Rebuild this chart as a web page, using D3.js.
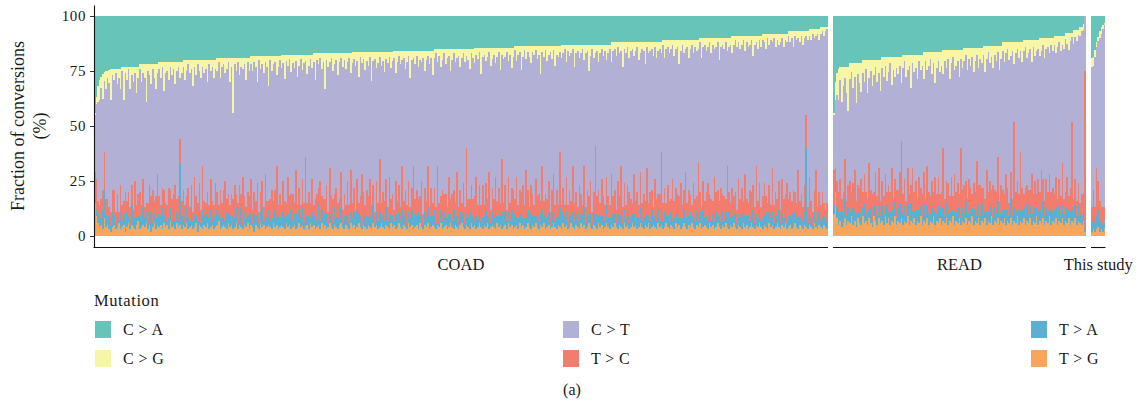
<!DOCTYPE html>
<html><head><meta charset="utf-8">
<script src="https://cdn.jsdelivr.net/npm/d3@7"></script>
<style>
body{margin:0;background:#fff}
svg{display:block}
text{font-family:"Liberation Serif","Times New Roman",serif;fill:#1a1a1a}
</style>
</head><body>
<svg id="chart" width="1144" height="408"></svg>
<script>
// ---- data ----
const seriesKeys = ['C > A','C > G','C > T','T > C','T > A','T > G'];
const seriesColors = ['#66C5B8','#F7F5A6','#B3B0D5','#F27C6D','#5AAFD3','#F8A65C'];
const cohorts = ['COAD','READ','This study'];
const yTicks = [0,25,50,75,100];
const legendTitle = 'Mutation';
const caption = '(a)';
// each row: one sample, values in % for [C>A, C>G, C>T, T>C, T>A, T>G]
const coadValues = [
[44,1,26,12,2,15],[37,3,34,14,3,9],[32,7,45,6,4,6],[29,9,48,5,5,4],[27.5,5,50.5,9,3,5],[26.5,11,41.5,9,9,3],[25.5,4,32.5,17,13,8],[25,8,50,8,5,4],[25,3,55,10,2,5],[24.5,6,56.5,4,6,3],
[24,14,51,6,3,2],[24,3,52,10,7,4],[24,5,50,12,4,5],[24,2,63,6,2,3],[24,7,50,9,6,4],[24,4,61,4,1,6],[24,9,44,12,8,3],[23,2,61,7,3,4],[23,15,46,6,5,5],[23,3,54,14,4,2],
[23,6,55,5,7,4],[23,1,56,11,3,6],[23,10,54,8,2,3],[23,4,50,9,9,5],[23,7,58,4,4,4],[23,3,49,17,5,3],[23,12,51,6,3,5],[23,5,53,10,2,7],[22,2,56,11,6,3],[22,8,56,7,3,4],
[22,4,48,13,8,5],[22,6,59,5,4,4],[22,17,46,4,5,6],[22,3,60,9,3,3],[22,5,50,12,6,5],[22,9,51,7,9,2],[22,2,55,15,2,4],[22,6,56,6,4,6],[22,11,49,10,5,3],[22,4,46,20,3,5],
[21,3,58,8,6,4],[21,7,58,5,4,5],[21,2,55,9,10,3],[21,13,45,12,3,6],[21,5,59,4,7,4],[21,4,61,7,2,5],[21,8,49,14,5,3],[21,2,56,8,6,7],[21,6,56,10,3,4],[21,3,57,5,9,5],
[21,10,46,16,4,3],[21,4,58,6,5,6],[21,2,59,11,3,4],[21,7,28,11,28,5],[21,5,58,7,6,3],[20,3,56,12,4,5],[20,9,57,8,2,4],[20,5,57,5,7,6],[20,2,56,14,5,3],[20,6,61,6,3,4],
[20,4,53,10,8,5],[20,12,57,4,4,3],[20,3,50,17,6,4],[20,7,55,9,3,6],[20,2,63,8,5,2],[20,5,51,12,7,5],[20,8,60,6,2,4],[20,3,45,20,9,3],[20,6,58,7,4,5],[20,4,61,5,6,4],
[20,10,50,11,3,6],[20,2,64,6,5,3],[20,5,49,14,8,4],[20,3,61,9,2,5],[20,8,58,5,6,3],[20,4,52,16,4,4],[19,6,55,8,7,5],[19,2,65,4,3,7],[19,9,51,13,5,3],[19,4,62,7,4,4],
[19,3,57,10,6,5],[19,7,49,18,3,4],[19,5,59,6,8,3],[19,2,60,9,4,6],[19,11,56,5,5,4],[19,4,58,12,2,5],[19,25,39,8,6,3],[19,3,55,15,4,4],[19,6,56,6,7,6],[19,2,64,9,3,3],
[19,8,50,13,5,5],[19,4,58,6,9,4],[19,5,49,22,2,3],[19,3,60,7,6,5],[19,10,58,5,4,4],[19,2,59,11,3,6],[19,6,57,8,7,3],[18,4,52,16,5,5],[18,7,63,6,2,4],[18,3,59,10,8,2],
[18,5,61,7,4,5],[18,12,46,14,6,4],[18,2,69,5,3,3],[18,6,56,9,5,6],[18,4,53,12,9,4],[18,8,61,6,2,5],[18,3,51,19,6,3],[18,5,61,8,4,4],[18,14,52,4,7,5],[18,2,63,10,3,4],
[18,7,54,13,5,3],[18,4,62,6,4,6],[18,3,58,9,8,4],[18,9,41,24,3,5],[18,5,63,5,6,3],[18,2,61,11,4,4],[17.5,6,62.5,7,2,5],[17.5,4,53.5,14,7,4],[17.5,11,55.5,8,5,3],[17.5,3,64.5,6,3,6],
[17.5,5,50.5,17,6,4],[17.5,2,62.5,9,4,5],[17.5,8,55.5,7,9,3],[17.5,4,59.5,12,3,4],[17.5,6,61.5,5,5,5],[17.5,3,49.5,20,7,3],[17.5,10,58.5,8,2,4],[17.5,5,55.5,10,6,6],[17.5,2,66.5,6,4,4],[17.5,7,49.5,13,8,5],
[17.5,4,63.5,9,3,3],[17.5,3,43.5,27,5,4],[17.5,9,58.5,6,4,5],[17.5,5,57.5,11,6,3],[17.5,2,65.5,7,2,6],[17.5,6,50.5,15,7,4],[17,4,65,5,4,5],[17,12,54,9,5,3],[17,3,61,12,3,4],[17,5,56,8,9,5],
[17,2,56,18,4,3],[17,7,58,6,6,6],[17,4,62,10,3,4],[17,16,50,7,5,5],[17,3,57,13,7,3],[17,6,66,5,2,4],[17,4,48,21,4,6],[17,2,63,8,6,4],[17,8,58,11,3,3],[17,5,59,6,8,5],
[17,3,58,14,4,4],[17,10,58,7,5,3],[17,4,62,9,3,5],[17,2,52,16,7,6],[17,6,65,6,2,4],[17,3,61,10,6,3],[17,7,62,5,4,5],[17,4,54,12,9,4],[17,2,67,8,3,3],[17,9,44,19,5,6],
[16.5,5,63.5,7,4,4],[16.5,3,58.5,11,6,5],[16.5,6,65.5,6,3,3],[16.5,4,53.5,14,8,4],[16.5,11,57.5,5,4,6],[16.5,2,63.5,9,5,4],[16.5,5,50.5,23,2,3],[16.5,3,60.5,8,7,5],[16.5,8,61.5,6,4,4],[16.5,4,58.5,12,6,3],
[16.5,6,59.5,10,3,5],[16.5,2,55.5,17,5,4],[16.5,13,56.5,7,4,3],[16.5,4,56.5,9,8,6],[16.5,3,69.5,5,2,4],[16.5,7,51.5,14,6,5],[16.5,5,63.5,8,4,3],[16.5,2,46.5,24,7,4],[16.5,6,62.5,6,3,6],[16.5,4,59.5,11,5,4],
[16.5,9,58.5,9,4,3],[16.5,3,54.5,13,8,5],[16.5,5,65.5,6,3,4],[16.5,2,54.5,18,6,3],[16.5,7,59.5,7,4,6],[16.5,4,60.5,10,5,4],[16,3,69,5,2,5],[16,10,49,15,7,3],[16,5,63,8,4,4],[16,2,59,12,5,6],
[16,6,65,6,3,4],[16,4,48,20,9,3],[16,3,65,7,4,5],[16,8,55,11,6,4],[16,5,65,9,2,3],[16,2,57,14,5,6],[16,12,59,5,4,4],[16,4,58,10,7,5],[16,3,49,26,3,3],[16,6,61,7,6,4],
[16,2,61,12,4,5],[16,7,60,6,8,3],[16,4,62,9,3,6],[16,5,54,16,5,4],[16,3,71,5,2,3],[16,9,53,11,6,5],[16,4,64,8,4,4],[16,2,50,19,7,6],[16,6,65,7,3,3],[16,3,59,13,5,4],
[16,11,58,6,4,5],[15,4,59,10,8,4],[15,2,70,7,3,3],[15,6,47,22,5,5],[15,3,67,9,2,4],[15,8,59,6,6,6],[15,5,59,14,4,3],[15,2,64,8,7,4],[15,7,59,11,3,5],[15,4,68,5,5,3],
[15,3,55,17,6,4],[15,10,58,7,4,6],[15,5,61,12,3,4],[15,2,62,9,9,3],[15,6,64,6,4,5],[15,4,52,20,5,4],[15,3,69,8,2,3],[15,8,56,10,6,5],[15,4,66,5,4,6],[15,2,59,13,7,4],
[15,6,66,7,3,3],[15,3,42,30,5,5],[15,5,63,9,4,4],[15,9,59,6,8,3],[15,2,60,14,3,6],[15,4,64,8,5,4],[14.5,7,60.5,11,2,5],[14.5,3,55.5,18,6,3],[14.5,5,66.5,6,4,4],[14.5,2,60.5,10,7,6],
[14.5,12,59.5,7,3,4],[14.5,4,58.5,15,5,3],[14.5,3,68.5,5,4,5],[14.5,6,55.5,12,8,4],[14.5,4,64.5,8,3,6],[14.5,2,54.5,21,5,3],[14.5,8,65.5,6,2,4],[14.5,5,58.5,11,6,5],[14.5,3,65.5,9,4,4],[14.5,7,51.5,17,7,3],
[14.5,4,65.5,7,3,6],[14.5,2,61.5,13,5,4],[14.5,10,60.5,6,4,5],[14.5,3,47.5,24,8,3],[14.5,5,65.5,9,2,4],[14.5,4,58.5,12,6,5],[14.5,2,71.5,5,4,3],[14.5,6,52.5,16,5,6],[14.5,3,67.5,8,3,4],[14.5,9,54.5,10,7,5],
[14.5,4,60.5,14,4,3],[13.5,2,67.5,7,6,4],[13.5,7,52.5,19,3,5],[13.5,4,68.5,6,5,3],[13.5,3,62.5,11,4,6],[13.5,11,55.5,8,8,4],[13.5,5,58.5,15,3,5],[13.5,2,70.5,6,5,3],[13.5,6,50.5,22,4,4],[13.5,3,62.5,9,6,6],
[13.5,5,68.5,7,2,4],[13.5,8,55.5,13,7,3],[13.5,3,64.5,10,4,5],[13.5,4,68.5,5,5,4],[13.5,2,58.5,17,3,6],[13.5,6,62.5,8,6,4],[13.5,4,63.5,12,4,3],[13.5,13,57.5,6,5,5],[13.5,3,51.5,20,8,4],[13.5,5,65.5,7,3,6],
[13.5,2,65.5,11,5,3],[13.5,7,62.5,9,4,4],[13.5,4,57.5,14,6,5],[13.5,3,72.5,6,2,3],[13.5,6,59.5,10,7,4],[13.5,2,56.5,18,4,6],[13.5,9,63.5,7,3,4],[13.5,4,61.5,13,5,3],[13.5,5,67.5,5,4,5],[13.5,3,45.5,25,9,4],
[13,6,67,8,3,3],[13,4,61,11,5,6],[13,2,71,6,4,4],[13,8,52,16,6,5],[13,3,70,9,2,3],[13,5,61,12,5,4],[13,4,67,7,3,6],[13,2,53,21,7,4],[13,10,62,8,4,3],[13,4,63,10,5,5],
[13,3,71,6,3,4],[13,6,58,14,6,3],[13,4,64,9,4,6],[13,2,71,5,5,4],[13,7,48,19,8,5],[13,4,70,7,3,3],[13,3,63,12,5,4],[13,12,57,8,4,6],[13,5,57,15,6,4],[13,2,74,6,2,3],
[13,6,61,10,5,5],[13,4,42,33,4,4],[13,3,66,8,7,3],[13,8,58,12,3,6],[13,4,68,6,5,4],[13,2,59,17,4,5],[13,5,64,9,6,3],[13,3,70,7,3,4],[13,7,53,13,8,6],[13,4,65,10,4,4],
[13,2,71,6,5,3],[12,9,51,20,3,5],[12,4,66,8,6,4],[12,3,64,11,4,6],[12,6,70,6,2,4],[12,2,61,15,7,3],[12,5,65,9,4,5],[12,4,52,23,5,4],[12,11,64,7,3,3],[12,3,61,12,6,6],
[12,5,69,6,4,4],[12,2,63,10,8,5],[12,7,61,14,3,3],[12,4,67,8,5,4],[12,3,70,5,4,6],[12,6,54,18,6,4],[12,4,68,9,2,5],[12,2,66,12,5,3],[12,8,66,6,4,4],[12,5,54,16,7,6],
[12,3,70,8,3,4],[12,4,65,11,5,3],[12,10,62,7,4,5],[12,2,55,21,6,4],[12,5,68,6,3,6],[12,4,64,13,4,3],[12,3,64,9,8,4],[12,6,69,5,3,5],[12,2,60,17,5,4],[12,7,64,10,4,3],
[12,4,65,7,6,6],[12,3,66,12,3,4],[12,5,45,28,5,5],[11,2,72,8,4,3],[11,8,59,11,7,4],[11,4,70,6,3,6],[11,3,63,14,5,4],[11,6,67,9,4,3],[11,4,68,6,6,5],[11,2,61,19,3,4],
[11,7,66,8,5,3],[11,4,63,12,4,6],[11,3,67,7,8,4],[11,11,60,10,3,5],[11,5,60,16,5,3],[11,2,73,6,4,4],[11,6,62,9,6,6],[11,4,56,22,3,4],[11,3,71,7,5,3],[11,8,60,12,4,5],
[11,4,66,8,7,4],[11,2,73,5,3,6],[11,6,59,15,5,4],[11,3,69,10,4,3],[11,5,66,7,6,5],[11,4,52,26,3,4],[10,2,68,9,5,6],[10,9,68,6,4,3],[10,4,61,13,8,4],[10,3,71,8,3,5],
[10,6,64,11,5,4],[10,4,62,17,4,3],[10,2,69,7,6,6],[10,7,66,10,3,4],[10,3,71,6,5,5],[10,5,58,20,4,3],[10,4,66,9,7,4],[10,2,67,12,3,6],[10,10,64,7,5,4],[10,4,64,15,4,3],
[10,3,68,8,6,5],[10,5,67,11,3,4],[10,2,71,6,5,6],[10,6,52,24,4,4],[10,4,66,9,8,3],[10,3,72,7,3,5],[9,8,61,13,5,4],[9,4,69,8,4,6],[9,2,69,10,6,4],[9,5,74,6,3,3],
[9,3,62,16,5,5],[9,6,68,9,4,4],[9,4,65,12,7,3],[9,2,73,7,3,6],[9,7,56,19,5,4],[9,3,71,8,4,5],[9,5,71,6,6,3],[9,4,66,14,3,4],[9,2,69,9,5,6],[9,9,59,11,8,4],
[9,4,74,7,3,3],[9,3,56,22,5,5],[9,6,69,8,4,4],[9,2,65,12,6,6],[9,5,73,6,3,4],[8,3,71,10,5,3],[8,4,64,15,4,5],[8,7,67,7,7,4],[8,2,75,9,3,3],[8,5,64,12,5,6],
[8,3,75,6,4,4],[8,4,57,20,6,5],[8,2,76,8,3,3],[8,6,66,11,5,4],[8,3,72,7,4,6],[8,5,62,13,8,4],[8,4,76,6,3,3],[8,2,64,16,5,5],[8,6,69,9,4,4],[8,3,70,7,6,6],
[8,4,64,18,3,3],[7,2,74,8,5,4],[7,5,68,11,4,5],[7,3,74,6,7,3],[7,7,65,14,3,4],[7,2,71,9,5,6],[7,4,74,7,4,4],[7,3,60,21,6,3],[7,5,72,8,3,5],[7,2,72,10,5,4],
[7,6,74,6,4,3],[7,3,67,12,6,5],[7,2,36,15,36,4],[7,4,76,7,3,3],[6,3,64,17,5,5],[6,5,73,8,4,4],[6,2,81,6,2,3],[6,4,69,10,5,6],[6,3,61,23,3,4],[6,2,79,6,4,3],
[6,5,69,9,6,5],[5,3,78,7,3,4],[5,2,73,12,5,3],[5,4,76,6,4,5],[5,2,81,5,3,4],[5,1,79,8,4,3]
];
const readValues = [
[44,1,25,16,4,10],[30,8,31,8,3,20],[26,10,39,12,5,8],[24,14,42,9,6,5],[23,6,45,15,4,7],[23,16,44,6,7,4],[23,9,48,11,3,6],[23,5,37,18,9,8],[23,12,49,7,4,5],[23,20,34,10,6,7],
[21.5,7,46.5,14,5,6],[21.5,4,54.5,8,3,9],[21.5,11,43.5,11,8,5],[21.5,6,42.5,19,4,7],[21.5,18,44.5,6,6,4],[21.5,5,50.5,12,3,8],[21.5,9,47.5,9,7,6],[21.5,13,39.5,16,5,5],[20,6,54,7,4,9],[20,10,42,13,9,6],
[20,4,56,10,3,7],[20,15,48,6,6,5],[20,8,39,21,4,8],[20,5,54,8,7,6],[20,12,49,12,3,4],[20,7,53,6,5,9],[20,3,48,14,8,7],[20,10,52,9,4,5],[20,6,43,17,6,8],[20,14,50,7,3,6],
[18.5,5,51.5,11,7,7],[18.5,9,54.5,8,5,5],[18.5,4,49.5,15,4,9],[18.5,11,50.5,6,8,6],[18.5,7,51.5,12,3,8],[18.5,3,58.5,9,6,5],[18.5,13,37.5,19,5,7],[18.5,6,58.5,7,4,6],[18.5,9,46.5,10,7,9],[18.5,5,55.5,13,3,5],
[18.5,8,52.5,8,6,7],[18.5,4,48.5,14,9,6],[18.5,12,26.5,31,4,8],[17.5,6,57.5,9,5,5],[17.5,3,53.5,12,7,7],[17.5,10,56.5,7,3,6],[17.5,7,44.5,16,6,9],[17.5,5,58.5,10,4,5],[17.5,15,44.5,8,8,7],[17.5,4,47.5,20,5,6],
[17.5,8,54.5,9,3,8],[17.5,6,51.5,13,7,5],[17.5,11,54.5,6,4,7],[17.5,3,52.5,15,6,6],[17.5,7,53.5,8,5,9],[17.5,5,58.5,11,3,5],[16.5,12,42.5,14,8,7],[16.5,4,62.5,7,4,6],[16.5,8,43.5,18,6,8],[16.5,6,57.5,10,5,5],
[16.5,3,62.5,8,3,7],[16.5,10,48.5,12,7,6],[16.5,5,58.5,7,4,9],[16.5,14,42.5,16,6,5],[16.5,7,57.5,9,3,7],[16.5,4,52.5,13,8,6],[16.5,9,55.5,6,5,8],[16.5,6,57.5,11,4,5],[15.5,11,33.5,27,6,7],[15.5,5,62.5,8,3,6],
[15.5,8,51.5,10,7,8],[15.5,4,56.5,14,5,5],[15.5,13,53.5,7,4,7],[15.5,6,51.5,12,9,6],[15.5,3,63.5,6,3,9],[15.5,9,47.5,17,6,5],[15.5,7,57.5,9,4,7],[15.5,5,55.5,11,7,6],[15.5,12,53.5,6,5,8],[15.5,4,40.5,32,3,5],
[15.5,8,55.5,8,6,7],[14.5,6,56.5,13,4,6],[14.5,3,57.5,9,8,8],[14.5,10,58.5,7,5,5],[14.5,5,54.5,16,3,7],[14.5,8,55.5,10,6,6],[14.5,4,62.5,6,4,9],[14.5,11,50.5,12,7,5],[14.5,6,59.5,8,5,7],[14.5,3,48.5,25,3,6],
[14.5,9,53.5,9,6,8],[14.5,5,57.5,14,4,5],[14.5,7,56.5,7,8,7],[13.5,4,60.5,11,5,6],[13.5,12,57.5,6,3,8],[13.5,6,50.5,19,6,5],[13.5,3,63.5,9,4,7],[13.5,8,53.5,12,7,6],[13.5,5,60.5,7,5,9],[13.5,10,53.5,15,3,5],
[13.5,4,61.5,8,6,7],[13.5,7,59.5,10,4,6],[13.5,3,47.5,20,8,8],[13.5,11,59.5,6,5,5],[13.5,6,57.5,13,3,7],[12,4,63,9,6,6],[12,9,60,7,4,8],[12,5,55,16,7,5],[12,3,63,10,5,7],[12,8,65,6,3,6],
[12,6,53,12,9,8],[12,4,67,8,4,5],[12,10,26,39,6,7],[12,5,63,9,5,6],[12,3,60,13,3,9],[12,7,62,7,7,5],[12,4,46,27,4,7],[12,9,57,10,6,6],[11,5,65,6,5,8],[11,3,64,14,3,5],
[11,8,58,8,8,7],[11,6,62,11,4,6],[11,4,64,7,6,8],[11,10,51,18,5,5],[11,3,67,9,3,7],[11,7,57,12,7,6],[11,5,65,6,4,9],[11,4,59,15,6,5],[10,8,62,8,5,7],[10,6,54,21,3,6],
[10,3,61,10,8,8],[10,9,65,7,4,5],[10,5,59,13,6,7],[10,4,66,9,5,6],[10,7,55,16,3,9],[10,3,67,8,7,5],[10,6,62,11,4,7],[9,4,68,7,6,6],[9,8,56,14,5,8],[9,5,69,9,3,5],
[9,3,62,12,7,7],[9,7,66,8,4,6],[9,4,54,19,6,8],[9,6,68,7,5,5],[7.5,3,69.5,10,3,7],[7.5,5,60.5,14,7,6],[7.5,8,66.5,6,4,8],[7.5,4,66.5,11,6,5],[7.5,2,38.5,40,5,7],[6.5,6,70.5,8,3,6],
[6.5,3,64.5,12,6,8],[6.5,5,72.5,7,4,5],[6.5,2,67.5,10,7,7],[5,4,76,6,3,6],[5,2,74,9,5,5],[3.5,3,74.5,8,4,7],[0,0,25,72,1,2]
];
const studyValues = [
[19,4,64,6,5,2],[18.5,4,56.5,11,7,3],[15.5,3,68.5,7,4,2],[12,2,55,22,6,3],[9.5,2,63.5,13,8,4],[7,3,74,9,5,2],[5,3,79,6,4,3],[4,2,81,8,3,2],[3,1,83,6,4,3]
];

// ---- drawing ----
const svg = d3.select('#chart');
const color = d3.scaleOrdinal().domain(seriesKeys).range(seriesColors);
const stackOrder = ['T > G','T > A','T > C','C > T','C > G','C > A'];
const y = d3.scaleLinear().domain([-5,105]).range([247,5]);
const facetRows = [coadValues, readValues, studyValues];
const facetStart = [94, 833, 1091];
const barW = 734 / coadValues.length;

facetRows.forEach((rows, fi) => {
  const objs = rows.map((r, i) => {
    const o = {id: i};
    seriesKeys.forEach((k, j) => o[k] = r[j]);
    return o;
  });
  const x0 = facetStart[fi], x1 = x0 + rows.length * barW;
  const x = d3.scaleBand().domain(objs.map(d => d.id)).range([x0, x1]).padding(0);
  const stacked = d3.stack().keys(stackOrder).offset(d3.stackOffsetExpand)(objs);
  const g = svg.append('g').attr('shape-rendering', 'crispEdges');
  g.selectAll('g').data(stacked).join('g')
    .attr('fill', s => color(s.key))
    .selectAll('rect').data(s => s).join('rect')
    .attr('x', d => x(d.data.id))
    .attr('width', x.bandwidth() + 0.01)
    .attr('y', d => y(d[1] * 100))
    .attr('height', d => Math.max(0, y(d[0] * 100) - y(d[1] * 100)));
  // bottom axis line per facet
  svg.append('line')
    .attr('x1', fi === 0 ? x0 - 0.5 : x0).attr('x2', x1)
    .attr('y1', 247.5).attr('y2', 247.5)
    .attr('stroke', '#111').attr('stroke-width', 1.1);
  // facet label
  svg.append('text')
    .attr('x', (x0 + x1) / 2).attr('y', 270)
    .attr('text-anchor', 'middle')
    .style('font-size', '16.5px')
    .text(cohorts[fi]);
});

// y axis
const yAxis = d3.axisLeft(y).tickValues(yTicks).tickSize(4).tickSizeOuter(0).tickPadding(4);
const ya = svg.append('g').attr('transform', 'translate(94,0)').call(yAxis);
ya.select('.domain').attr('stroke', '#111').attr('stroke-width', 1.1);
ya.selectAll('.tick line').attr('stroke', '#333');
ya.selectAll('.tick text')
  .attr('font-family', '"Liberation Serif","Times New Roman",serif')
  .style('font-size', '15px').style('letter-spacing', '0.6px')
  .attr('fill', '#222');

// y title
svg.append('text')
  .attr('transform', 'translate(24,126) rotate(-90)')
  .attr('text-anchor', 'middle')
  .style('font-size', '18px')
  .text('Fraction of conversions');
svg.append('text')
  .attr('transform', 'translate(46,126) rotate(-90)')
  .attr('text-anchor', 'middle')
  .style('font-size', '18px')
  .text('(%)');

// legend
svg.append('text').attr('x', 94).attr('y', 306)
  .style('font-size', '16.5px').style('letter-spacing', '0.6px')
  .text(legendTitle);
const colX = [95, 563, 1031];
const rowY = [321, 350];
seriesKeys.forEach((k, i) => {
  const cx = colX[Math.floor(i / 2)], cy = rowY[i % 2];
  svg.append('rect').attr('x', cx).attr('y', cy).attr('width', 16).attr('height', 17)
    .attr('fill', color(k));
  svg.append('text').attr('x', cx + 28).attr('y', cy + 13.5)
    .style('font-size', '16px').style('letter-spacing', '0.4px')
    .text(k);
});

// caption
svg.append('text').attr('x', 572).attr('y', 395)
  .attr('text-anchor', 'middle')
  .style('font-size', '16px')
  .text(caption);
</script>
</body></html>
